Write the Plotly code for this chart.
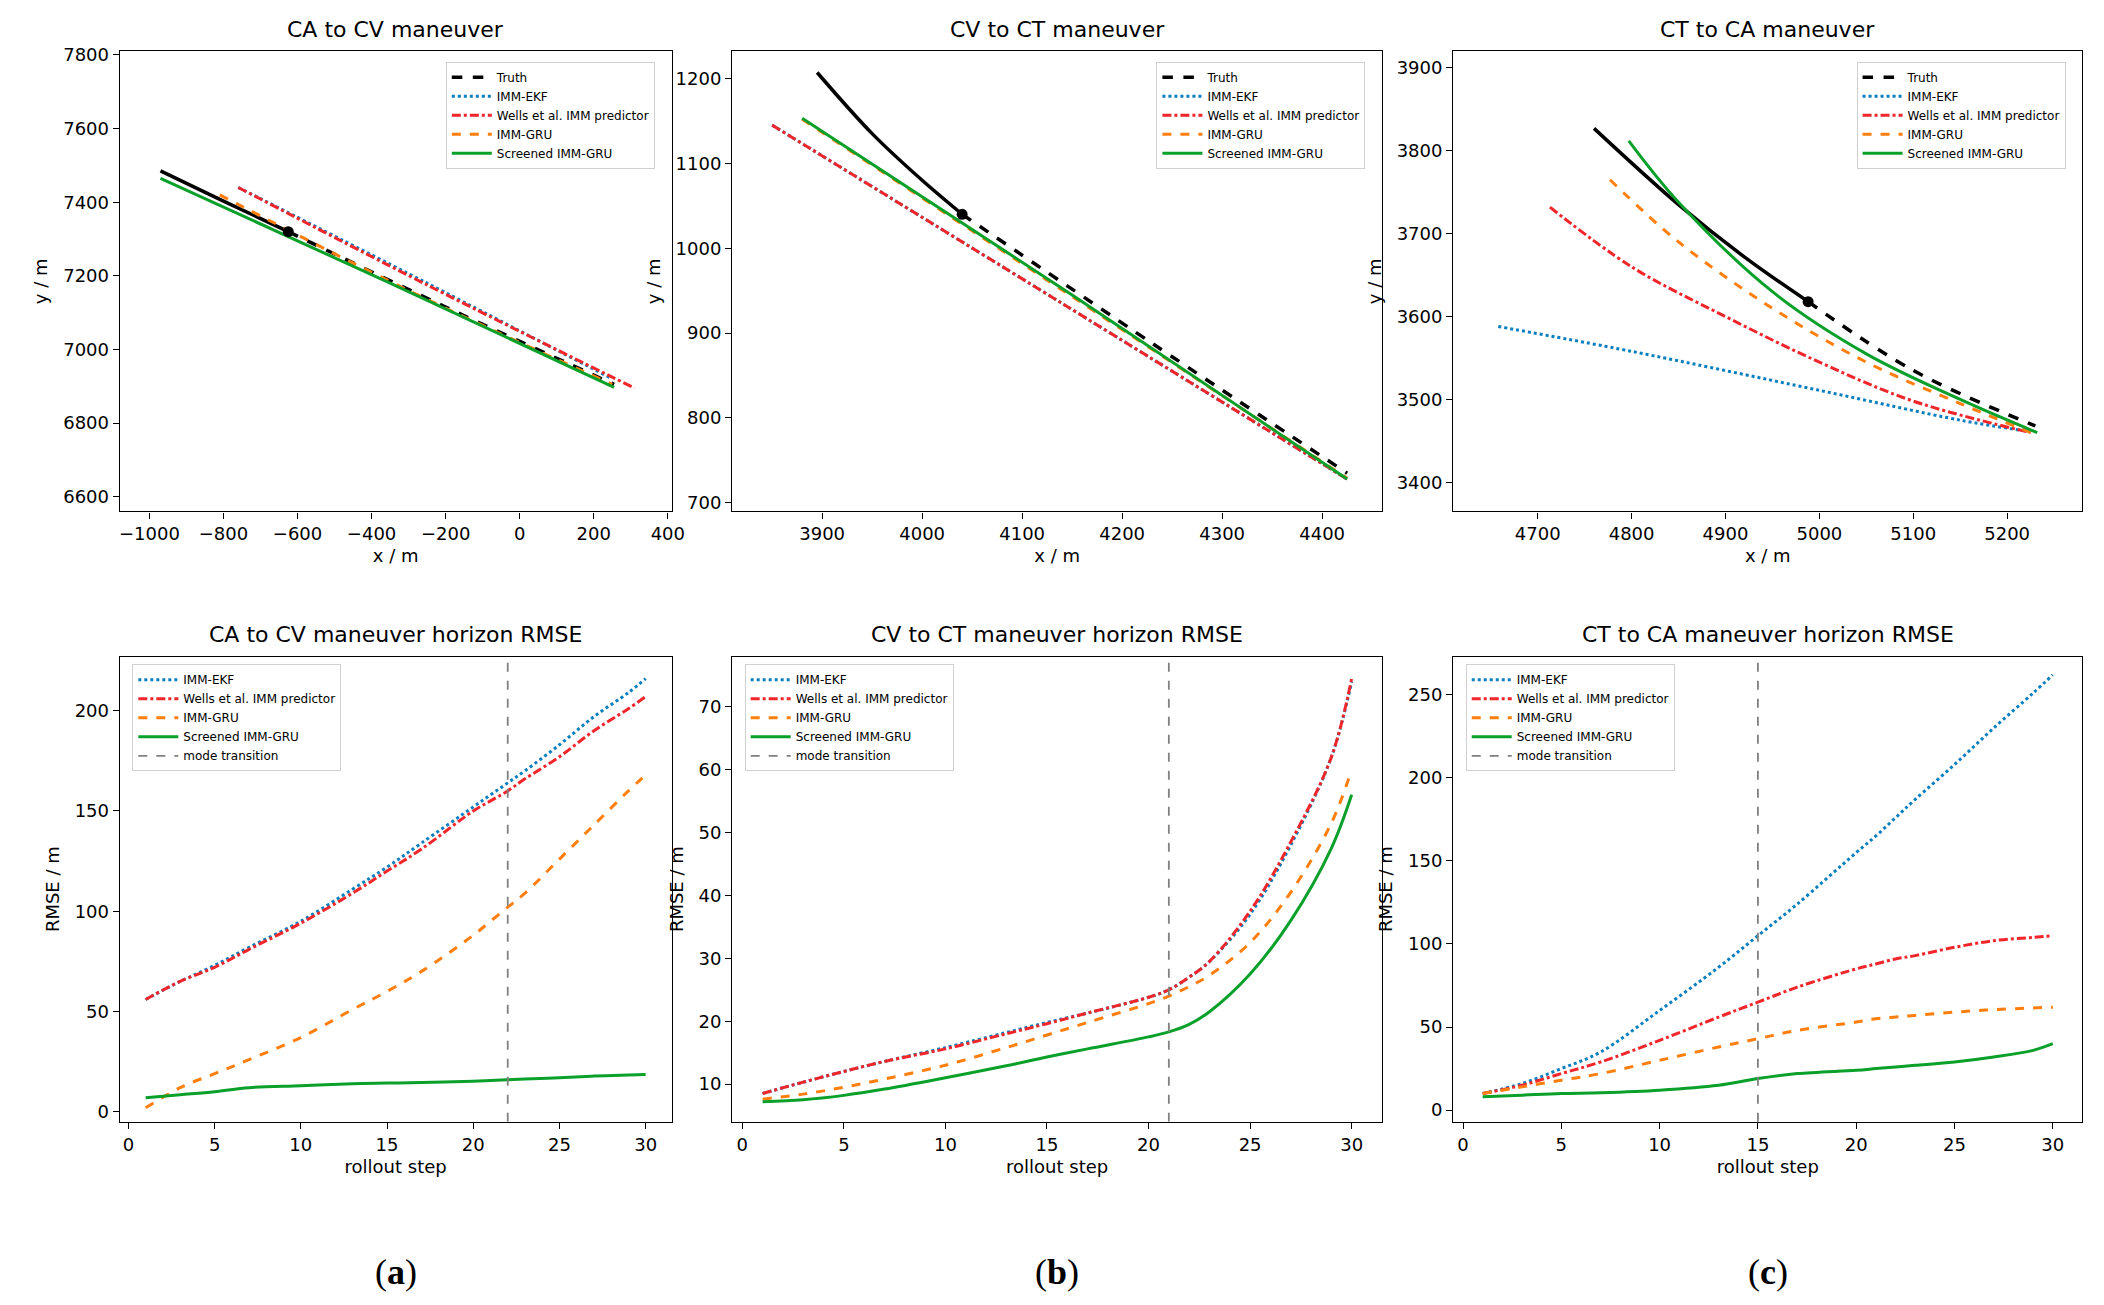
import plotly.graph_objects as go

# ---- trajectories (top row) ----
# CA to CV
a_truth_x = [-970, -800, -625]; a_truth_y = [7485, 7403, 7320]
a_truthf_x = [-625, -200, 255]; a_truthf_y = [7320, 7115, 6905]
a_ekf_x = [-760, -250, 250]; a_ekf_y = [7440, 7180, 6920]
a_wells_x = [-760, -250, 310]; a_wells_y = [7440, 7175, 6895]
a_gru_x = [-810, -300, 250]; a_gru_y = [7420, 7160, 6905]
a_scr_x = [-970, -350, 255]; a_scr_y = [7465, 7180, 6897]
# CV to CT
b_truth_x = [3895, 3950, 4000, 4040]; b_truth_y = [1207, 1135, 1080, 1040]
b_truthf_x = [4040, 4230, 4425]; b_truthf_y = [1040, 888, 735]
b_ekf_x = [3850, 4140, 4425]; b_ekf_y = [1145, 935, 728]
b_wells_x = [3850, 4140, 4425]; b_wells_y = [1145, 935, 728]
b_gru_x = [3880, 4150, 4425]; b_gru_y = [1152, 943, 729]
b_scr_x = [3880, 4150, 4425]; b_scr_y = [1153, 945, 728]
# CT to CA
c_truth_x = [4760, 4850, 4920, 4988]; c_truth_y = [3827, 3735, 3672, 3618]
c_truthf_x = [4988, 5100, 5230]; c_truthf_y = [3618, 3535, 3468]
c_ekf_x = [4658, 4800, 5000, 5150, 5220]; c_ekf_y = [3588, 3558, 3511, 3475, 3462]
c_wells_x = [4713, 4800, 4900, 5000, 5100, 5225]; c_wells_y = [3732, 3660, 3600, 3545, 3498, 3460]
c_gru_x = [4777, 4850, 4950, 5050, 5150, 5232]; c_gru_y = [3765, 3690, 3610, 3545, 3495, 3457]
c_scr_x = [4797, 4850, 4950, 5050, 5150, 5232]; c_scr_y = [3812, 3738, 3630, 3555, 3500, 3460]
top_markers = [(-625, 7320), (4040, 1040), (4988, 3618)]

# ---- horizon RMSE (bottom row) ----
steps = [1, 3, 5, 7, 10, 13, 15, 17, 20, 21, 22, 23, 25, 27, 29, 30]
a_ekf = [56, 65, 73, 82, 95, 111, 122, 134, 152, 158, 164, 170, 183, 197, 209, 216]
a_wells = [56, 65, 72, 81, 94, 109, 120, 131, 150, 155, 160, 166, 177, 190, 201, 207]
a_gru = [2, 12, 19, 26, 37, 51, 60, 70, 88, 95, 102, 109, 126, 143, 160, 168]
a_scr = [7, 8.5, 10, 12, 13, 14, 14.3, 14.6, 15.2, 15.6, 16, 16.3, 17, 17.8, 18.3, 18.6]
b_ekf = [8.5, 10.3, 12, 13.6, 15.8, 18.2, 19.8, 21.3, 23.8, 25, 27, 29.5, 37, 48, 62, 74]
b_wells = [8.5, 10.3, 12, 13.6, 15.6, 18, 19.6, 21.3, 23.8, 25, 27, 29.5, 37.5, 48.5, 62, 74.5]
b_gru = [7.6, 8.4, 9.5, 10.8, 13, 15.8, 17.8, 19.8, 22.8, 24, 25.5, 27.3, 32.5, 40.5, 51.5, 60]
b_scr = [7.2, 7.5, 8.2, 9.2, 11, 12.9, 14.3, 15.6, 17.5, 18.3, 19.5, 21.5, 27.5, 36, 47.5, 56]
c_ekf = [10, 16, 25, 35, 60, 86, 105, 124, 155, 165, 176, 187, 208, 230, 251, 262]
c_wells = [10, 15, 22, 29, 42, 56, 65, 74, 85, 88, 91, 93, 98, 102, 104, 105]
c_gru = [10, 14, 18, 22, 30, 38, 43, 48, 53, 55, 56, 57, 59, 60.5, 61.5, 62]
c_scr = [8, 9, 10, 10.5, 12, 15, 19, 22, 24, 25, 26, 27, 29, 32, 36, 40]
transitions = [22, 21, 15]

names = ["IMM-EKF", "Wells et al. IMM predictor", "IMM-GRU", "Screened IMM-GRU"]
colors = ["#0a7fbf", "#f0262b", "#ff7f0e", "#0aa02a"]
dashes = ["dot", "dashdot", "dash", "solid"]

W, H = 2104, 1305
xdom = [[0.053, 0.317], [0.346, 0.657], [0.691, 0.992]]
ytop = [0.617, 0.972]
ybot = [0.146, 0.505]
font = "DejaVu Sans"

fig = go.Figure()
layout = {}

top_sets = [
    ((a_truth_x, a_truth_y), (a_truthf_x, a_truthf_y), [(a_ekf_x, a_ekf_y), (a_wells_x, a_wells_y), (a_gru_x, a_gru_y), (a_scr_x, a_scr_y)]),
    ((b_truth_x, b_truth_y), (b_truthf_x, b_truthf_y), [(b_ekf_x, b_ekf_y), (b_wells_x, b_wells_y), (b_gru_x, b_gru_y), (b_scr_x, b_scr_y)]),
    ((c_truth_x, c_truth_y), (c_truthf_x, c_truthf_y), [(c_ekf_x, c_ekf_y), (c_wells_x, c_wells_y), (c_gru_x, c_gru_y), (c_scr_x, c_scr_y)]),
]
bot_sets = [(a_ekf, a_wells, a_gru, a_scr), (b_ekf, b_wells, b_gru, b_scr), (c_ekf, c_wells, c_gru, c_scr)]
top_titles = ["CA to CV maneuver", "CV to CT maneuver", "CT to CA maneuver"]
top_xr = [[-1080, 410], [3810, 4460], [4610, 5280]]
top_yr = [[6560, 7810], [690, 1232], [3365, 3920]]
top_xt = [[-1000, -800, -600, -400, -200, 0, 200, 400], [3900, 4000, 4100, 4200, 4300, 4400], [4700, 4800, 4900, 5000, 5100, 5200]]
top_yt = [[6600, 6800, 7000, 7200, 7400, 7600, 7800], [700, 800, 900, 1000, 1100, 1200], [3400, 3500, 3600, 3700, 3800, 3900]]
bot_yr = [[-5, 227], [4, 78], [-7, 273]]
bot_yt = [[0, 50, 100, 150, 200], [10, 20, 30, 40, 50, 60, 70], [0, 50, 100, 150, 200, 250]]
letters = ["a", "b", "c"]

ax_common = dict(showline=True, mirror=True, linecolor="black", linewidth=1.3, ticks="outside",
                 tickcolor="black", ticklen=6, showgrid=False, zeroline=False,
                 tickfont=dict(size=18, family=font, color="black"))

annotations = []
for i in range(3):
    t, b = i + 1, i + 4
    tx, ty = "x%d" % t, "y%d" % t
    bx, by = "x%d" % b, "y%d" % b
    leg_t = "legend" if t == 1 else "legend%d" % t
    leg_b = "legend%d" % b
    (sx, sy), (fx, fy), others = top_sets[i]
    fig.add_trace(go.Scatter(x=sx, y=sy, mode="lines", line=dict(color="black", width=3.5), xaxis=tx, yaxis=ty,
                             showlegend=False, line_shape="spline", legend=leg_t))
    fig.add_trace(go.Scatter(x=fx, y=fy, mode="lines", name="Truth", line=dict(color="black", width=3.5, dash="dash"),
                             xaxis=tx, yaxis=ty, legend=leg_t, line_shape="spline"))
    for k, (ox, oy) in enumerate(others):
        fig.add_trace(go.Scatter(x=ox, y=oy, mode="lines", name=names[k],
                                 line=dict(color=colors[k], width=3, dash=dashes[k]),
                                 xaxis=tx, yaxis=ty, legend=leg_t, line_shape="spline"))
    mx, my = top_markers[i]
    fig.add_trace(go.Scatter(x=[mx], y=[my], mode="markers", marker=dict(color="black", size=11),
                             xaxis=tx, yaxis=ty, showlegend=False))
    for k, vals in enumerate(bot_sets[i]):
        fig.add_trace(go.Scatter(x=steps, y=vals, mode="lines", name=names[k],
                                 line=dict(color=colors[k], width=3, dash=dashes[k]),
                                 xaxis=bx, yaxis=by, legend=leg_b, line_shape="spline"))
    fig.add_trace(go.Scatter(x=[transitions[i], transitions[i]], y=bot_yr[i], mode="lines", name="mode transition",
                             line=dict(color="gray", width=1.8, dash="dash"), xaxis=bx, yaxis=by, legend=leg_b))

    layout["xaxis%d" % t] = dict(ax_common, domain=xdom[i], anchor=ty, range=top_xr[i], tickvals=top_xt[i],
                                 ticktext=[str(v).replace("-", "\u2212") for v in top_xt[i]],
                                 title=dict(text="x / m", font=dict(size=18, family=font), standoff=6))
    layout["yaxis%d" % t] = dict(ax_common, domain=ytop, anchor=tx, range=top_yr[i], tickvals=top_yt[i],
                                 title=dict(text="y / m", font=dict(size=18, family=font), standoff=10))
    layout["xaxis%d" % b] = dict(ax_common, domain=xdom[i], anchor=by, range=[-0.5, 31.5], tickvals=[0, 5, 10, 15, 20, 25, 30],
                                 title=dict(text="rollout step", font=dict(size=18, family=font), standoff=6))
    layout["yaxis%d" % b] = dict(ax_common, domain=ybot, anchor=bx, range=bot_yr[i], tickvals=bot_yt[i],
                                 title=dict(text="RMSE / m", font=dict(size=18, family=font), standoff=10))
    legbox = dict(font=dict(size=12, family=font, color="black"), bgcolor="rgba(255,255,255,0.85)",
                  bordercolor="#d0d0d0", borderwidth=1, tracegroupgap=0, itemwidth=40)
    layout[leg_t] = dict(legbox, x=xdom[i][1] - 0.008, y=ytop[1] - 0.008, xanchor="right", yanchor="top")
    layout[leg_b] = dict(legbox, x=xdom[i][0] + 0.006, y=ybot[1] - 0.006, xanchor="left", yanchor="top")

    cx = (xdom[i][0] + xdom[i][1]) / 2
    annotations.append(dict(text=top_titles[i], x=cx, y=ytop[1] + 0.006, xref="paper", yref="paper",
                            xanchor="center", yanchor="bottom", showarrow=False, font=dict(size=22, family=font)))
    annotations.append(dict(text=top_titles[i] + " horizon RMSE", x=cx, y=ybot[1] + 0.006, xref="paper", yref="paper",
                            xanchor="center", yanchor="bottom", showarrow=False, font=dict(size=22, family=font)))
    annotations.append(dict(text="(<b>%s</b>)" % letters[i], x=cx, y=0.03, xref="paper", yref="paper",
                            xanchor="center", yanchor="middle", showarrow=False,
                            font=dict(size=36, family="Liberation Serif", color="black")))

fig.update_layout(**layout)
fig.update_layout(width=W, height=H, margin=dict(l=0, r=0, t=0, b=0), plot_bgcolor="white",
                  paper_bgcolor="white", annotations=annotations, font=dict(family=font, color="black"))
fig.write_html("out.html")
